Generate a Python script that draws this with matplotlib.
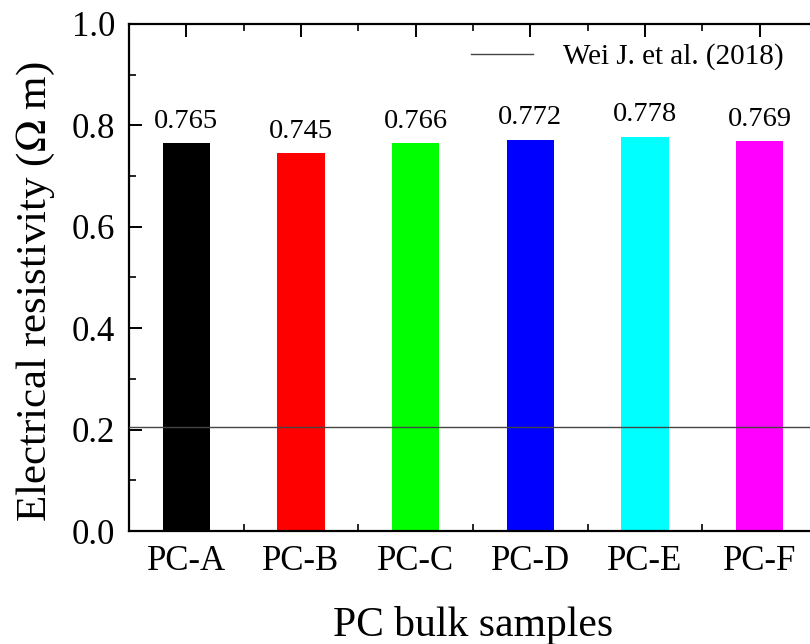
import matplotlib.pyplot as plt
from matplotlib.ticker import MultipleLocator

plt.rcParams['font.family'] = ['Liberation Serif', 'DejaVu Serif']
plt.rcParams['mathtext.fontset'] = 'stix'

samples = ['PC-A', 'PC-B', 'PC-C', 'PC-D', 'PC-E', 'PC-F']
resistivity = [0.765, 0.745, 0.766, 0.772, 0.778, 0.769]
bar_colors = ['#000000', '#ff0000', '#00ff00', '#0000ff', '#00ffff', '#ff00ff']
ref_value = 0.205
ref_label = 'Wei J. et al. (2018)'

fig = plt.figure(figsize=(8.10, 6.44), dpi=100)
W, H = 810, 644
left, right, top, bottom = 129, 817, 24, 531
ax = fig.add_axes([left / W, 1 - bottom / H, (right - left) / W, (bottom - top) / H])

x = list(range(len(samples)))
ax.bar(x, resistivity, width=0.41, color=bar_colors, zorder=2)
for xi, v in zip(x, resistivity):
    ax.text(xi, v + 0.018, f'{v:.3f}', ha='center', va='bottom', fontsize=20.5)

ax.axhline(ref_value, color='#444444', lw=1.0, zorder=3, label=ref_label)
ax.legend(loc='upper right', bbox_to_anchor=(0.951, 0.962), frameon=False,
          borderpad=0, borderaxespad=0,
          fontsize=21, handlelength=2.15, handletextpad=1.0)

ax.set_xlim(-0.5, 5.5)
ax.set_ylim(0, 1.0)
ax.set_xticks(x)
ax.set_xticklabels(samples)
ax.xaxis.set_minor_locator(MultipleLocator(0.5))
ax.yaxis.set_major_locator(MultipleLocator(0.2))
ax.yaxis.set_minor_locator(MultipleLocator(0.1))
ax.yaxis.set_major_formatter(lambda v, p: f'{v:.1f}')

for s in ax.spines.values():
    s.set_linewidth(1.6)

ax.tick_params(which='major', direction='in', length=9, width=1.4, labelsize=25, pad=10)
ax.tick_params(which='minor', direction='in', length=5, width=1.2)
ax.tick_params(axis='x', which='both', top=True, labeltop=False)

ax.set_xlabel('PC bulk samples', fontsize=30, labelpad=20)
ax.set_ylabel('Electrical resistivity ($\\Omega$ m)', fontsize=31)
ax.yaxis.set_label_coords(-0.105, 0.472)

fig.savefig('out.png', dpi=100)
